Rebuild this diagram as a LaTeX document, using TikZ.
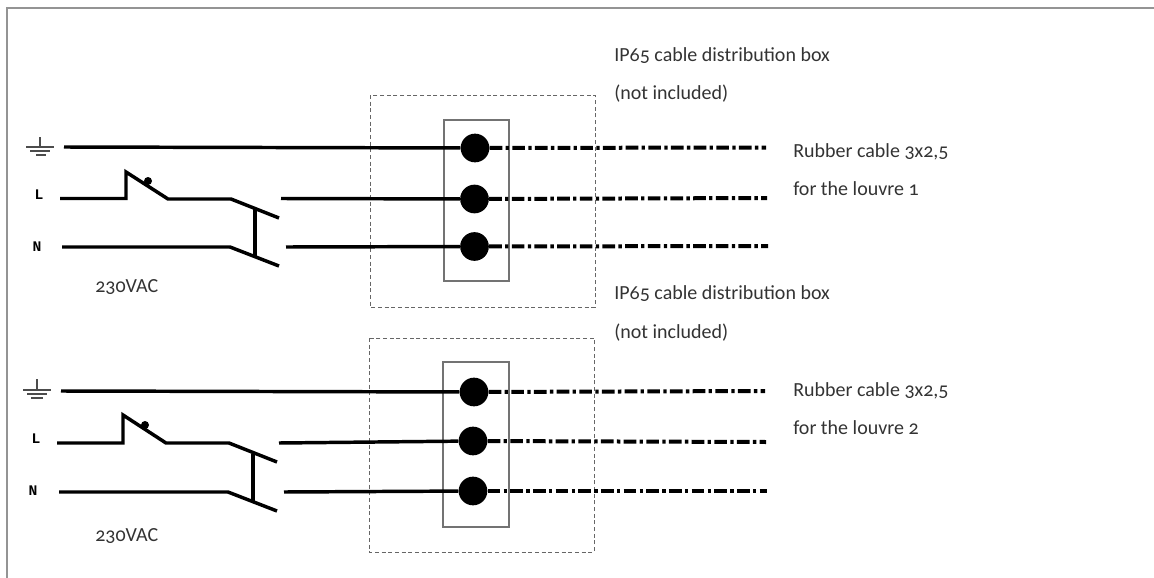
\documentclass[tikz,border=0pt]{standalone}
\usepackage{fontspec}
\setmainfont[Numbers=OldStyle]{Carlito}
\newfontfamily\wirefont{Liberation Mono}
\usepackage{tikz}
\begin{document}
\begin{tikzpicture}[x=0.75pt, y=-0.75pt]
\tikzset{wire/.style={line width=2.6pt},
  cablewire/.style={line width=3pt, dash pattern=on 9.5pt off 2.5pt on 2.5pt off 2.5pt},
  frameline/.style={draw=black!42, line width=1.8pt},
  boxinner/.style={draw=black!55, line width=1.3pt},
  boxouter/.style={draw=black!60, line width=0.75pt, dash pattern=on 3pt off 2pt},
  terminal/.style={circle, fill=black, inner sep=0pt, minimum size=21.5pt},
  noeud/.style={inner sep=0pt, minimum size=0pt},
  texte/.style={anchor=base west, inner sep=0pt, text=black!80, font=\fontsize{15pt}{15pt}\selectfont},
  phase/.style={inner sep=0pt, font=\wirefont\bfseries\fontsize{11pt}{11pt}\selectfont}}
\useasboundingbox (0, 0) rectangle (1154, 578);
\draw[frameline] (7, 578) -- (7, 8) -- (1154, 8);
% first circuit
\draw[boxouter] (370, 95) rectangle (595, 307);
\draw[boxinner] (444, 120) rectangle (509, 281);
\node[terminal] (T1) at (475, 148) {};
\node[terminal] (T2) at (474.5, 199) {};
\node[terminal] (T3) at (474.5, 246.5) {};
\coordinate (E1) at (64, 147);
\coordinate (L1) at (60, 198.5);
\coordinate (N1) at (62, 247);
\coordinate (L2) at (281, 198.5);
\coordinate (N2) at (286, 247);
\coordinate (C1) at (766, 147.5);
\coordinate (C2) at (767, 198);
\coordinate (C3) at (768, 246);
\draw[wire] (E1) -- (T1);
\draw[wire] (L2) -- (T2);
\draw[wire] (N2) -- (T3);
\draw[cablewire] (T1) -- (C1);
\draw[cablewire] (T2) -- (C2);
\draw[cablewire] (T3) -- (C3);
\draw[wire, line join=miter] (L1) -- (126, 198.5) -- (126, 172) -- (168, 199) -- (231, 199) -- (279, 218);
\draw[wire] (N1) -- (230, 247) -- (279, 266);
\draw[wire] (255, 209) -- (255, 257);
\node[circle, fill=black, inner sep=0pt, minimum size=6pt] (K1) at (148, 181) {};
\draw[black!70, line width=0.8pt] (40, 137) -- (40, 147) (26, 147) -- (54, 147) (30, 151) -- (50, 151) (36, 155) -- (46, 155);
\node[phase] (PL1) at (39, 195) {L};
\node[phase] (PN1) at (37, 247) {N};
\node[texte] (V1) at (95, 292) {230VAC};
\node[texte] (B1) at (614, 61) {IP65 cable distribution box};
\node[texte] (B2) at (614, 99) {(not included)};
\node[texte] (R1) at (793, 157) {Rubber cable 3x2,5};
\node[texte] (R2) at (793, 195) {for the louvre 1};
% second circuit
\draw[boxouter] (369, 338) rectangle (594, 552);
\draw[boxinner] (443, 362) rectangle (509, 527);
\node[terminal] (T4) at (474, 392) {};
\node[terminal] (T5) at (473, 441) {};
\node[terminal] (T6) at (473, 491) {};
\coordinate (E2) at (61, 391);
\coordinate (L3) at (57, 443);
\coordinate (N3) at (59, 492);
\coordinate (L4) at (279, 443);
\coordinate (N4) at (284, 492);
\coordinate (C4) at (765, 391);
\coordinate (C5) at (766, 442);
\coordinate (C6) at (767, 491);
\draw[wire] (E2) -- (T4);
\draw[wire] (L4) -- (T5);
\draw[wire] (N4) -- (T6);
\draw[cablewire] (T4) -- (C4);
\draw[cablewire] (T5) -- (C5);
\draw[cablewire] (T6) -- (C6);
\draw[wire, line join=miter] (L3) -- (123, 443) -- (123, 415) -- (166, 443) -- (229, 443) -- (277, 462);
\draw[wire] (N3) -- (228, 492) -- (277, 511);
\draw[wire] (253, 454) -- (253, 501);
\node[circle, fill=black, inner sep=0pt, minimum size=6pt] (K2) at (145, 425) {};
\draw[black!70, line width=0.8pt] (37, 379) -- (37, 390) (23, 390) -- (51, 390) (27, 394) -- (47, 394) (31, 398) -- (43, 398);
\node[phase] (PL2) at (36, 439) {L};
\node[phase] (PN2) at (33, 491) {N};
\node[texte] (V2) at (95, 541) {230VAC};
\node[texte] (B3) at (614, 299) {IP65 cable distribution box};
\node[texte] (B4) at (614, 338) {(not included)};
\node[texte] (R3) at (793, 396) {Rubber cable 3x2,5};
\node[texte] (R4) at (793, 434) {for the louvre 2};
\end{tikzpicture}
\end{document}
